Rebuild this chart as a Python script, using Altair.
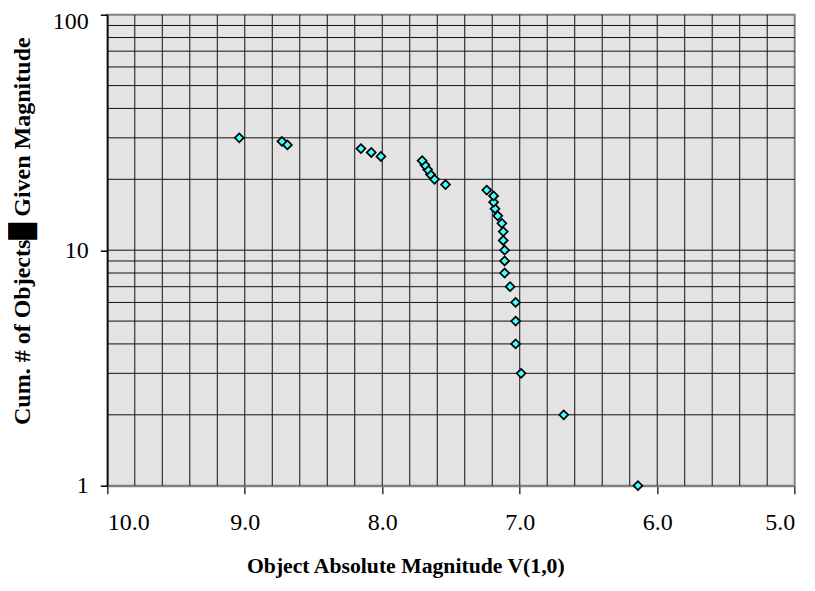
import altair as alt
import pandas as pd

# Data
magnitude = [6.14, 6.68, 6.99, 7.03, 7.03, 7.03, 7.07, 7.11, 7.11, 7.11,
             7.12, 7.12, 7.13, 7.16, 7.18, 7.19, 7.19, 7.24, 7.54, 7.62,
             7.65, 7.67, 7.69, 7.71, 8.01, 8.08, 8.155, 8.69, 8.73, 9.04]
cum_count = [1, 2, 3, 4, 5, 6, 7, 8, 9, 10,
             11, 12, 13, 14, 15, 16, 17, 18, 19, 20,
             21, 22, 23, 24, 25, 26, 27, 28, 29, 30]

x_grid = [5.2, 5.4, 5.6, 5.8, 6.0, 6.2, 6.4, 6.6, 6.8, 7.0, 7.2, 7.4,
          7.6, 7.8, 8.0, 8.2, 8.4, 8.6, 8.8, 9.0, 9.2, 9.4, 9.6, 9.8]
y_grid = [2, 3, 4, 5, 6, 7, 8, 9, 10, 20, 30, 40, 50, 60, 70, 80, 90]
x_ticks = [10, 9, 8, 7, 6, 5]
y_ticks = [1, 10, 100]

W = 687.4
H = 471

df = pd.DataFrame({"mag": magnitude, "n": cum_count})

xscale = alt.Scale(type="linear", domain=[5, 10], reverse=True, nice=False, zero=False)
yscale = alt.Scale(type="log", domain=[1, 100], nice=False)

FONT = "Liberation Serif"

x_axis = alt.Axis(
    values=x_ticks, format=".1f", grid=False,
    title="Object Absolute Magnitude V(1,0)",
    titleFont=FONT, titleFontSize=21.7, titleFontWeight="bold", titleColor="#000000",
    titleX=298, titleY=87, titleBaseline="alphabetic", titleAlign="center",
    labelFont=FONT, labelFontSize=24, labelColor="#000000", labelPadding=17,
    tickSize=8, tickColor="#333333", tickWidth=1.5,
    domainColor="#808080", domainWidth=2,
)
y_axis = alt.Axis(
    values=y_ticks, format="d", grid=False,
    title="Cum. # of Objects\u2588 Given Magnitude",
    titleFont=FONT, titleFontSize=24, titleFontWeight="bold", titleColor="#000000",
    titleX=-78, titleY=216, titleBaseline="alphabetic", titleAlign="center",
    labelFont=FONT, labelFontSize=24, labelColor="#000000", labelPadding=12,
    labelOffset={"condition": {"test": "datum.value >= 100", "value": 6.5}, "value": 0},
    tickSize=7, tickColor="#000000", tickWidth=1.5,
    domainColor="#000000", domainWidth=1.5,
)

vgrid = alt.Chart(pd.DataFrame({"mag": x_grid})).mark_rule(
    color="#111111", strokeWidth=1
).encode(
    x=alt.X("mag:Q", scale=xscale, axis=x_axis),
    y=alt.value(0),
    y2=alt.value(H),
)

hgrid = alt.Chart(pd.DataFrame({"n": y_grid})).mark_rule(
    color="#111111", strokeWidth=1
).encode(
    y=alt.Y("n:Q", scale=yscale, axis=y_axis),
    x=alt.value(0),
    x2=alt.value(W),
)

points = alt.Chart(df).mark_point(
    shape="diamond", filled=True, fill="#44FFFF", stroke="#000000",
    strokeWidth=1.7, size=80, opacity=1, fillOpacity=1, strokeOpacity=1
).encode(
    x=alt.X("mag:Q", scale=xscale, axis=x_axis),
    y=alt.Y("n:Q", scale=yscale, axis=y_axis),
)

chart = alt.layer(vgrid, hgrid, points).properties(
    width=W,
    height=H,
    background="#FFFFFF",
    autosize=alt.AutoSizeParams(type="none"),
    padding={"left": 99.3, "top": 6.7, "right": 12.3, "bottom": 97.3},
).configure_view(
    fill="#E3E3E3", stroke="#808080", strokeWidth=2
)

chart.save("out.html", embed_options={"renderer": "svg", "actions": False})
